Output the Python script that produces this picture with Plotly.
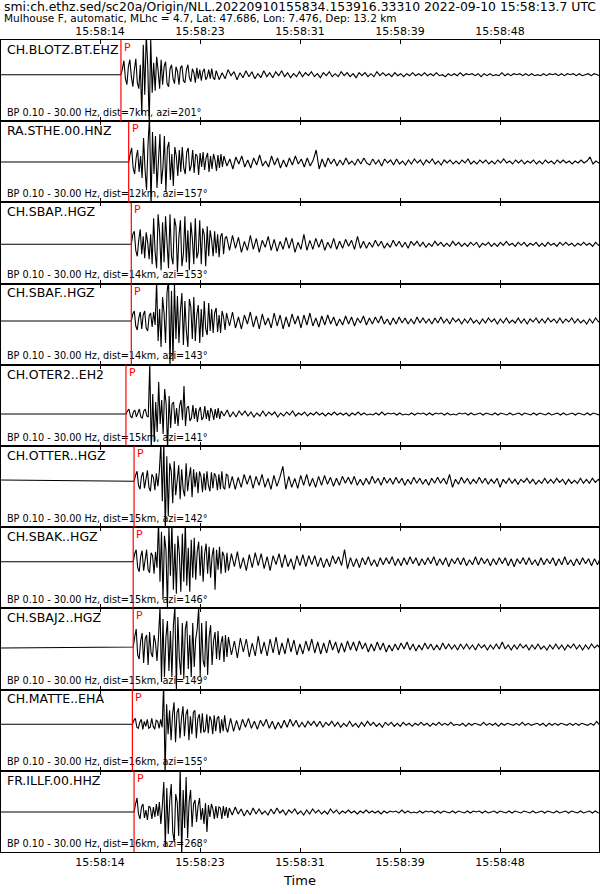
import plotly.graph_objects as go

# ---------------- data ----------------
title_line1 = "smi:ch.ethz.sed/sc20a/Origin/NLL.20220910155834.153916.33310 2022-09-10 15:58:13.7 UTC"
title_line2 = "Mulhouse F, automatic, MLhc = 4.7, Lat: 47.686, Lon: 7.476, Dep: 13.2 km"

stations = ["CH.BLOTZ.BT.EHZ", "RA.STHE.00.HNZ", "CH.SBAP..HGZ", "CH.SBAF..HGZ", "CH.OTER2..EH2",
            "CH.OTTER..HGZ", "CH.SBAK..HGZ", "CH.SBAJ2..HGZ", "CH.MATTE..EHA", "FR.ILLF.00.HHZ"]
dist_km = [7, 12, 14, 14, 15, 15, 15, 15, 16, 16]
azi_deg = [201, 157, 153, 143, 141, 142, 146, 149, 155, 268]
# P pick times, seconds after 15:58:00
p_times = [15.96, 16.61, 16.83, 16.83, 16.38, 17.06, 16.99, 16.99, 16.92, 17.06]

tick_vals = [14.2, 22.6, 31.0, 39.4, 47.8]
tick_text = ["15:58:14", "15:58:23", "15:58:31", "15:58:39", "15:58:48"]
t_start, t_end = 5.884, 56.116
dt_strong = 0.125  # sample step of the strong-motion part (s)
dt_coda = 0.25     # sample step of the coda (s)

# trace level at window start (pre-event)
pre_level = [0, 0, 0, 0, 0, 1.3, 0, -1, 0, 0]

# ---- strong-motion samples (from the P pick) and coda samples, per station ----
blotz_strong = [0, 6, 14, -4, -10, 8, 15, -2, -12, 5, 16, -8, -14, 10, -40, 30, -20, 40, 10, -50,
                36, -18, 12, -16, 18, 4, -14, 15, -10, 8, 13, -9, -12, 6, 10, -4, -9, 8, 3, -10,
                7, 9, -6, -8, 5, 10, -3, -7, 6, 2, -8, 7, -4, 5, -6, 3, 6, -5, -2, 5, -4, 6, -3, -5]
blotz_coda = [4, -5, 2, -4, 5, -1, 3, -5, 2, -3, 4, -2, 3, -4, 1, -3, 4, -2, 2, -3,
              3, -1, 4, -2, 2, -3, 1, -2, 3, -2, 2, -1, 3, -2, 1, -3, 2, -1, 3, -2,
              1, -2, 3, -1, 2, -2, 1, -3, 2, -1, 2, -2, 1, -2, 3, -1, 2, -1, 1, -2,
              2, -1, 1, -2, 1, -1, 2, -1, 1, -1, 2, -1, 1, -1, 2, -1, 0, -2, 1, -1,
              1, -1, 2, -1, 1, 0, 1, -1, 1, -2, 1, -1, 1, -1, 0, -1, 2, -1, 1, -1,
              1, 0, 1, -1, 1, -1, 1, -1, 0, -1, 1, -1, 1, 0, 1, -1, 1, -1, 1, 0,
              1, -1, 1, -1, 0, 1, -1, 1, 0, -1]

sthe_strong = [0, 8, 14, -6, -12, 4, 12, -10, 6, -16, 24, -8, -28, 18, 45, -45, 30, -12, 26, -26,
               10, 28, -22, -6, 26, -30, 14, 20, -18, 8, -24, 15, 6, -14, 12, -10, 15, -6, -12, 10,
               14, -9, -4, 12, -11, 8, 6, -13, 9, -5, 10, -8, 4, 9, -10, 6, -7, 8, 2, -9, 7, -6, 8, -5]
sthe_coda = [6, -4, 3, -7, 5, -2, 6, -5, 2, -6, 4, -3, 7, -4, 1, -5, 6, -3, 4, -6,
             2, -5, 4, -3, 6, -2, 3, -5, 4, -4, 2, 12, -7, 3, -5, 4, -2, 3, -4, 2,
             -3, 4, -2, 1, -3, 3, -2, 4, -1, -3, 3, -2, 2, -4, 3, -1, 2, -3, 3, -2,
             1, -3, 2, -2, 3, -1, 2, -3, 2, -1, 3, -2, 1, -3, 2, -1, 2, -2, 1, -2,
             2, -1, 3, -2, 1, -2, 2, -1, 2, -2, 1, -2, 2, -1, 3, -1, 1, -2, 2, -1,
             2, -2, 1, -1, 2, -2, 1, -2, 2, -1, 1, -2, 2, -1, 2, -1, 1, -2, 1, -1,
             2, -1, 1, 5, -2, 1, -1, 2, -1, 1]

sbap_strong = [0, 10, 13, -6, -12, 4, 15, -10, 8, -14, 12, 2, -15, 10, -20, 26, -8, -24, 30, 12,
               -26, 22, -18, 28, 6, -24, 30, -12, -20, 26, 18, -28, 8, 24, -22, -10, 28, -18, 14, -26,
               22, 6, -20, 26, -14, -8, 24, -20, 16, 10, -22, 18, -12, 14, 4, -12, 13, -9, 10, -13,
               8, 11, -10, 6]
sbap_coda = [8, -6, 9, -4, 7, -8, 3, -6, 9, -5, 6, -8, 4, -3, 8, -6, 5, -7, 3, -5,
             7, -4, 6, -8, 2, -5, 10, -6, 4, -5, 6, -3, 5, -6, 2, -4, 6, -5, 3, -4,
             5, -2, 4, -5, 8, -4, 3, -4, 2, -3, 4, -2, 3, -4, 1, -3, 4, -2, 3, -3,
             2, -4, 3, -1, 3, -2, 2, -3, 1, -2, 3, -1, 2, -2, 1, -2, 3, -1, 2, -2,
             1, -2, 2, -1, 2, -3, 1, -1, 2, -2, 1, -2, 2, -1, 3, -1, 1, -2, 2, -1,
             2, -2, 1, -1, 2, -2, 1, -2, 2, -1, 1, -2, 2, -1, 2, -1, 1, -2, 1, -1,
             2, -1, 1, -2, 2, -1, 1, -1, 2, -1]

sbaf_strong = [0, 7, 10, -5, -9, 3, 9, -8, 6, 10, -7, -10, 5, 8, -6, 9, -4, 40, -20, 12,
               -26, 24, 8, -22, 28, 42, -45, 30, -40, 38, -18, 25, -22, 10, 28, -24, 20, -10, -26, 22,
               14, -18, 24, -20, 6, 16, -22, 12, -16, 20, -8, -14, 18, -10, 12, -12, 8, 13, -11, 6,
               -12, 10, 4, -9]
sbaf_coda = [8, -5, 9, -7, 4, -8, 6, -3, 9, -6, 5, -8, 7, -4, 3, -7, 8, -5, 6, -8,
             4, -6, 7, -3, 5, -7, 6, -4, 8, -5, 3, -6, 5, -4, 6, -3, 4, -5, 2, -4,
             5, -3, 4, -5, 3, -2, 5, -4, 3, -3, 4, -2, 5, -3, 2, -4, 3, -3, 4, -2,
             3, -3, 2, -3, 4, -2, 3, -2, 2, -3, 3, -2, 4, -2, 2, -3, 3, -1, 2, -3,
             2, -2, 3, -2, 1, -3, 2, -2, 3, -1, 2, -3, 2, -2, 3, -2, 1, -2, 3, -2,
             2, -3, 2, -1, 3, -2, 2, -2, 3, -1, 2, -2, 3, -2, 2, -1, 3, -2, 2, -2,
             1, -3, 2, -2, 3, -1, 2, -2, 3, -2]

oter2_strong = [0, 3, 5, -2, -4, 2, 4, -3, 1, 5, -3, -4, 3, 5, -2, -3, 50, -35, 20, -28,
                12, -18, 32, -10, 14, -20, 25, 10, -35, 18, -14, 10, 12, -10, 6, -12, 8, 14, -6, 28,
                -12, 6, 8, -7, -4, 9, -5, 6, -8, 3, 7, -6, -3, 8, -5, 4, -7, 6, 2, -6,
                5, -4, 6, -5]
oter2_coda = [3, -2, 4, -3, 2, -3, 3, -1, 3, -2, 2, -3, 1, -2, 3, -2, 2, -1, 2, -3,
              1, -2, 2, -1, 3, -2, 1, -1, 2, -2, 1, -1, 2, -1, 1, -2, 1, -1, 2, -1,
              1, -1, 1, -2, 1, -1, 2, -1, 1, -1, 0, -1, 1, -1, 2, -1, 1, 0, 1, -1,
              1, -1, 0, -1, 1, -1, 1, 0, 1, -1, 1, -1, 1, 0, 1, -1, 1, -1, 0, -1,
              1, 0, 1, -1, 1, -1, 0, 1, -1, 1, 0, -1, 1, -1, 1, 0, -1, 1, -1, 0,
              1, -1, 1, 0, -1, 1, -1, 1, 0, -1, 1, -1, 0, 1, -1, 1, -1, 0, 1, -1,
              1, 0, -1, 1, -1, 1, 0, -1, 1, -1]

otter_strong = [0, 6, 10, -4, -8, 5, 9, -7, 3, 11, -6, -10, 7, 4, -9, 8, -5, 10, 38, -20,
                40, -50, 25, -35, 18, 10, -22, 20, -14, 6, 16, -18, 12, -8, -15, 18, -10, 4, 14, -16,
                12, -6, 9, -12, 10, 5, -11, 8, -9, 10, -4, -10, 9, -7, 8, 5, -9, 7, -8, 10,
                -6, -8, 7, 6]
otter_coda = [-7, 5, -8, 4, -6, 7, -3, 6, -7, 5, -4, 7, -6, 3, -8, 6, -5, 4, 15, -8,
              5, -6, 3, -7, 6, -4, 7, -5, 3, -6, 5, -4, 6, -3, 4, -5, 3, -4, 5, -2,
              4, -3, 5, -4, 2, -4, 3, -3, 5, -2, 3, -4, 4, -2, 3, -3, 4, -2, 3, -4,
              2, -3, 4, -2, 3, -3, 2, -4, 3, -2, 4, -2, 3, -3, 7, -6, 2, -3, 4, -2,
              3, -3, 2, -2, 4, -2, 3, -3, 2, -2, 3, -6, 2, -2, 3, -2, 2, -3, 2, -1,
              3, -2, 2, -3, 1, -2, 3, -2, 2, -2, 3, -1, 2, -3, 2, -2, 1, -2, 3, -2,
              2, -2, 3, -1, 2, -2, 3, -2, 1, -2]

sbak_strong = [0, 8, 12, -6, -10, 5, 11, -9, 4, 12, -8, -11, 9, 6, -12, 10, -6, 40, -20, 30,
               -38, 26, 12, -46, 36, -14, 40, -28, 18, -32, 26, 8, -30, 28, -20, 40, -24, 14, -30, 22,
               -16, 24, -18, 10, 20, -14, 16, -20, 8, 18, -12, 15, -16, 6, 14, -28, 12, -8, 15, -12,
               10, 6, -11, 9]
sbak_coda = [-9, 8, -5, 10, -7, 4, -9, 7, -6, 9, -4, 8, -7, 5, -9, 6, -3, 8, -6, 7,
             -5, 3, -8, 6, -4, 7, -5, 6, -3, 6, -5, 4, -6, 3, -5, 6, -2, 5, -4, 12,
             -7, 4, -5, 3, -6, 4, -3, 5, -4, 2, -5, 4, -3, 4, -2, 5, -4, 3, -4, 4,
             -3, 5, -2, 4, -4, 3, -3, 4, -2, 5, -4, 3, -3, 4, -5, 3, -2, 4, -3, 4,
             -4, 2, -3, 5, -3, 4, -2, 3, -4, 3, -3, 4, -2, 4, -4, 3, -5, 3, -2, 4,
             -3, 4, -3, 2, -4, 4, -3, 3, -2, 4, -4, 3, -3, 5, -3, 2, -4, 3, -3, 4,
             -2, 3, -4, 3, -3, 4, -2, 3, -4, 3]

sbaj2_strong = [0, 10, 18, -8, -12, 6, 14, -16, 8, 12, -18, 15, -6, -10, 12, 4, -14, 10, 40, -35,
                28, -30, 10, 26, -24, 16, -30, 22, 40, -42, 30, -12, -28, 24, -32, 18, 26, -22, 12, -30,
                24, -20, 8, 18, 40, -30, 24, -14, -20, 26, -28, 10, 22, -18, 6, 15, -12, 16, -13, 4,
                11, -15, 12, -10]
sbaj2_coda = [10, -8, 6, -11, 9, -5, 8, -10, 4, -9, 11, -7, 5, -9, 8, -6, 10, -8, 4, -7,
              9, -5, 7, -8, 3, -7, 6, -4, 8, -6, 5, -7, 4, -6, 7, -3, 5, -6, 4, -5,
              6, -3, 5, -4, 6, -2, 4, -5, 3, -4, 5, -3, 4, -5, 2, -4, 3, -3, 4, -2,
              5, -3, 3, -4, 2, -3, 4, -2, 3, -3, 2, -3, 4, -2, 3, -2, 2, -3, 3, -2,
              3, -2, 2, -3, 3, -1, 2, -3, 2, -2, 3, -2, 5, -2, 2, -3, 2, -2, 3, -1,
              2, -3, 2, -2, 3, -2, 1, -3, 2, -2, 3, -2, 2, -3, 2, -1, 3, -2, 2, -3,
              2, -2, 3, -1, 2, -2, 3, -2, 2, -2]

matte_strong = [0, 4, 6, -3, -4, 2, 5, -5, 3, -2, 5, -4, -3, 6, -2, -5, 4, 3, -4, 5,
                -3, 40, -50, 20, -10, 14, -16, 10, 22, -18, 12, 16, -14, 6, 18, -12, 10, 15, -16, 8,
                -10, 12, 14, -14, 6, 10, -9, 11, -8, -6, 10, -9, 8, 4, -10, 9, -7, 6, 8, -9,
                5, -7, 9, -4]
matte_coda = [-8, 6, -7, 4, -6, 5, -3, 6, -4, 3, -5, 4, -2, 5, -4, 3, -5, 2, -4, 4,
              -3, 5, -2, 4, -3, 2, -3, 3, -1, 3, -2, 3, -3, 2, -1, 3, -2, 2, -3, 1,
              -2, 3, -2, 1, -3, 2, -2, 3, -1, 2, -2, 1, -3, 2, -1, 2, -2, 1, -2, 2,
              -1, 1, -2, 1, -1, 2, -1, 1, -2, 1, -1, 2, -1, 1, -1, 2, -1, 0, -1, 1,
              -2, 1, -1, 1, 0, -1, 2, -1, 1, -1, 1, -2, 1, -1, 1, 0, -1, 1, -1, 2,
              -1, 1, -1, 0, 1, -1, 1, -2, 1, -1, 1, -1, 1, 0, -1, 1, -1, 1, -1, 1,
              0, -1, 1, -1, 3, -1, 1, -1, 0, 1]

illf_strong = [0, 8, 14, -2, -7, 5, 8, -6, 2, -8, 6, 4, -7, 5, -5, 8, -4, 10, -12, 6,
               30, -35, 24, -22, 12, 28, -20, -30, 18, 10, -24, 45, -45, 22, -16, 35, -26, 10, 22, -15,
               8, 12, -10, 6, 14, -8, 4, -12, 9, -20, 7, -5, 8, 3, -7, 6, -6, 5, 4, -7,
               6, -4, 5, -6]
illf_coda = [4, -3, 5, -2, 3, -4, 2, -3, 4, -2, 3, -2, 1, -3, 3, -2, 4, -1, 2, -3,
             2, -1, 3, -2, 1, -3, 2, -2, 3, -1, 2, -2, 1, -2, 3, -1, 2, -2, 1, -1,
             2, -1, 1, -2, 1, -1, 2, -1, 1, -1, 1, -2, 1, -1, 1, 0, 1, -1, 2, -1,
             1, -1, 0, -1, 1, -1, 1, 0, 1, -1, 1, -1, 1, 0, -1, 1, -1, 1, 0, -1,
             1, -1, 1, 0, 1, -1, 1, -1, 0, 1, -1, 1, 0, -1, 1, -1, 1, 0, -1, 1,
             0, -1, 1, -1, 0, 1, -1, 1, 0, -1, 1, -1, 0, 1, -1, 1, 0, -1, 1, -1,
             0, 1, -1, 1, -1, 0, 1, -1, 1, -1]

strong_parts = [blotz_strong, sthe_strong, sbap_strong, sbaf_strong, oter2_strong,
                otter_strong, sbak_strong, sbaj2_strong, matte_strong, illf_strong]
coda_parts = [blotz_coda, sthe_coda, sbap_coda, sbaf_coda, oter2_coda,
              otter_coda, sbak_coda, sbaj2_coda, matte_coda, illf_coda]

# ---------------- styling / layout ----------------
# vertical shift of each trace's zero line below the panel centre (panel pixel units)
base_shift = [-5.9, 0.2, 1.3, -3.2, 8.6, -5.3, -6.1, -2.0, -5.9, 0.6]
HALF = 40.6
FONT = "DejaVu Sans"
N = len(stations)

fig = go.Figure()
layout_axes = {}
shapes = []
annotations = []
label_t = t_start + 0.5

for k in range(N):
    sx = "" if k == 0 else str(k + 1)
    xref, yref = "x" + sx, "y" + sx
    lo, hi = -HALF + base_shift[k], HALF + base_shift[k]
    tp = p_times[k]
    s, c = strong_parts[k], coda_parts[k]
    t_coda0 = tp + dt_strong * len(s)
    xs = [t_start] + [tp + dt_strong * j for j in range(len(s))] + \
         [t_coda0 + dt_coda * i for i in range(len(c))]
    ys = [pre_level[k]] + list(s) + list(c)

    # labels drawn first so the waveform lies on top of them
    fig.add_trace(go.Scatter(
        x=[label_t], y=[hi - 4.5], mode="text", text=[stations[k]],
        textposition="bottom right", textfont=dict(family=FONT, size=12.5, color="black"),
        xaxis=xref, yaxis=yref, showlegend=False, hoverinfo="skip"))
    fig.add_trace(go.Scatter(
        x=[label_t], y=[lo + 3], mode="text",
        text=[f"BP 0.10 - 30.00 Hz, dist={dist_km[k]}km, azi={azi_deg[k]}°"],
        textposition="top right", textfont=dict(family=FONT, size=9.7, color="black"),
        xaxis=xref, yaxis=yref, showlegend=False, hoverinfo="skip"))
    fig.add_trace(go.Scatter(
        x=xs, y=ys, mode="lines", line=dict(color="black", width=1.1),
        xaxis=xref, yaxis=yref, showlegend=False, hoverinfo="skip"))

    top = 1 - k / N
    bot = 1 - (k + 1) / N
    xa = dict(range=[t_start, t_end], domain=[0, 1], anchor=yref,
              showline=True, mirror="ticks", linecolor="black", linewidth=1,
              ticks="inside", ticklen=4, tickcolor="black", tickwidth=1,
              tickvals=tick_vals, ticktext=tick_text, showgrid=False, zeroline=False,
              showticklabels=False, tickfont=dict(family=FONT, size=11, color="black"))
    if k == 0:
        xa.update(side="top", showticklabels=True)
    if k == N - 1:
        xa.update(showticklabels=True,
                  title=dict(text="Time", font=dict(family=FONT, size=13, color="black"), standoff=7))
    ya = dict(range=[lo, hi], domain=[bot, top], anchor=xref, showline=True, mirror=True,
              linecolor="black", linewidth=1, ticks="", showticklabels=False,
              showgrid=False, zeroline=False, fixedrange=True)
    layout_axes["xaxis" + sx] = xa
    layout_axes["yaxis" + sx] = ya

    shapes.append(dict(type="line", xref=xref, yref=yref + " domain", x0=tp, x1=tp, y0=0, y1=1,
                       line=dict(color="red", width=1.2), layer="above"))
    annotations.append(dict(x=tp, y=1, xref=xref, yref=yref + " domain", text="P",
                            showarrow=False, xanchor="left", yanchor="top", xshift=1, yshift=1,
                            font=dict(family=FONT, size=11, color="red")))

annotations.append(dict(x=0, y=1, xref="paper", yref="paper", text=title_line1, showarrow=False,
                        xanchor="left", yanchor="middle", xshift=1, yshift=34,
                        font=dict(family=FONT, size=12.4, color="black")))
annotations.append(dict(x=0, y=1, xref="paper", yref="paper", text=title_line2, showarrow=False,
                        xanchor="left", yanchor="middle", xshift=1, yshift=22.5,
                        font=dict(family=FONT, size=10.5, color="black")))

fig.update_layout(
    width=600, height=894,
    margin=dict(l=1, r=1, t=40, b=42),
    paper_bgcolor="white", plot_bgcolor="white",
    showlegend=False, shapes=shapes, annotations=annotations,
    **layout_axes)

fig.write_html("out.html", config={"displayModeBar": False},
               post_script="document.body.style.margin='0';")
